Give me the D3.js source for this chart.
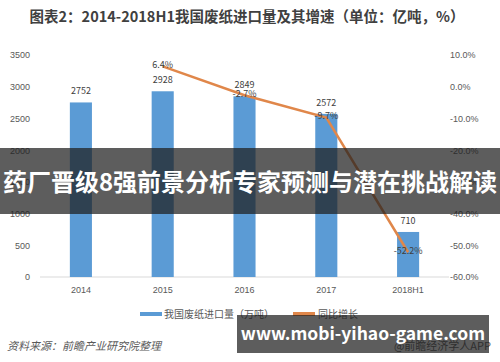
<!DOCTYPE html>
<html>
<head>
<meta charset="utf-8">
<script src="https://cdn.jsdelivr.net/npm/d3@7"></script>
<style>
  body { margin: 0; background: #fff; }
  svg { display: block; font-family: "Noto Sans CJK SC", "Noto Sans", sans-serif; }
  .tick text { fill: #595959; font-size: 9px; }
</style>
</head>
<body>
<div id="chart"></div>
<script>
// data
const years = ["2014", "2015", "2016", "2017", "2018H1"];
const imports = [2752, 2928, 2849, 2572, 710];
const growth = [null, 6.4, -2.7, -9.7, -52.2];
const leftTicks = [0, 500, 1000, 1500, 2000, 2500, 3000, 3500];
const rightTicks = [10, 0, -10, -20, -30, -40, -50, -60];

const W = 500, H = 362;
const svg = d3.select("#chart").append("svg").attr("width", W).attr("height", H);

// title
svg.append("text").attr("x", 247).attr("y", 22).attr("text-anchor", "middle")
  .attr("font-size", 14.5).attr("font-weight", "bold").attr("fill", "#404040")
  .text("图表2：2014-2018H1我国废纸进口量及其增速（单位：亿吨，%）");

// scales
const x = d3.scaleBand().domain(years).range([40, 449]).paddingInner(0.73).paddingOuter(0.365);
const y = d3.scaleLinear().domain([0, 3500]).range([277, 55]);
const y2 = d3.scaleLinear().domain([-60, 10]).range([277, 55]);

// baseline
svg.append("line").attr("x1", 40).attr("x2", 449).attr("y1", y(0)).attr("y2", y(0))
  .attr("stroke", "#d9d9d9");

// axes
svg.append("g").attr("transform", "translate(30,0)")
  .call(d3.axisLeft(y).tickValues(leftTicks).tickSize(0).tickPadding(0).tickFormat(d3.format("d")))
  .call(g => g.select(".domain").remove());
svg.append("g").attr("transform", "translate(450,0)")
  .call(d3.axisRight(y2).tickValues(rightTicks).tickSize(0).tickPadding(0).tickFormat(d => d.toFixed(1) + "%"))
  .call(g => g.select(".domain").remove());
svg.append("g").attr("transform", `translate(0,${y(0) + 7})`)
  .call(d3.axisBottom(x).tickSize(0).tickPadding(3))
  .call(g => g.select(".domain").remove());

// bars
const bars = years.map((d, i) => ({ year: d, v: imports[i] }));
svg.selectAll(".bar").data(bars).enter().append("rect")
  .attr("x", d => x(d.year)).attr("width", x.bandwidth())
  .attr("y", d => y(d.v)).attr("height", d => y(0) - y(d.v))
  .attr("fill", "#5b9bd5");
svg.selectAll(".barlbl").data(bars).enter().append("text")
  .attr("x", d => x(d.year) + x.bandwidth() / 2).attr("y", d => y(d.v) - 8)
  .attr("text-anchor", "middle").attr("font-size", 9).attr("fill", "#404040")
  .text(d => d.v);

// line
const pts = years.map((d, i) => ({ year: d, v: growth[i] })).filter(d => d.v !== null);
const line = d3.line().x(d => x(d.year) + x.bandwidth() / 2).y(d => y2(d.v));
svg.append("path").datum(pts).attr("d", line).attr("fill", "none")
  .attr("stroke", "#e0874a").attr("stroke-width", 2.5);
svg.selectAll(".linelbl").data(pts).enter().append("text")
  .attr("x", d => x(d.year) + x.bandwidth() / 2).attr("y", d => y2(d.v) + 2)
  .attr("text-anchor", "middle").attr("font-size", 9).attr("fill", "#404040")
  .text(d => d.v.toFixed(1) + "%");

// legend
svg.append("rect").attr("x", 140).attr("y", 312).attr("width", 22).attr("height", 4).attr("fill", "#5b9bd5");
svg.append("text").attr("x", 164).attr("y", 318).attr("font-size", 10).attr("fill", "#595959").text("我国废纸进口量（万吨）");
svg.append("rect").attr("x", 293).attr("y", 312).attr("width", 22).attr("height", 4).attr("fill", "#e0874a");
svg.append("text").attr("x", 318).attr("y", 318).attr("font-size", 10).attr("fill", "#595959").text("同比增长");

// source
svg.append("text").attr("x", 7).attr("y", 350).attr("font-size", 11).attr("font-style", "italic")
  .attr("fill", "#595959").text("资料来源：前瞻产业研究院整理");
svg.append("text").attr("x", 491).attr("y", 350).attr("text-anchor", "end").attr("font-size", 11)
  .attr("fill", "#595959").text("@前瞻经济学人APP");

// overlay banner
svg.append("rect").attr("x", 0).attr("y", 148).attr("width", W).attr("height", 66)
  .attr("fill", "#1e1e1e").attr("fill-opacity", 0.72);
svg.append("text").attr("x", 250).attr("y", 191).attr("text-anchor", "middle")
  .attr("font-size", 24).attr("font-weight", "bold").attr("fill", "#fff")
  .text("药厂晋级8强前景分析专家预测与潜在挑战解读");

// url box
svg.append("rect").attr("x", 237).attr("y", 315).attr("width", 252).attr("height", 38)
  .attr("fill", "#1e1e1e").attr("fill-opacity", 0.72);
svg.append("text").attr("x", 363).attr("y", 340).attr("text-anchor", "middle")
  .attr("font-size", 17.5).attr("font-weight", "bold").attr("fill", "#fff")
  .text("www.mobi-yihao-game.com");
</script>
</body>
</html>
